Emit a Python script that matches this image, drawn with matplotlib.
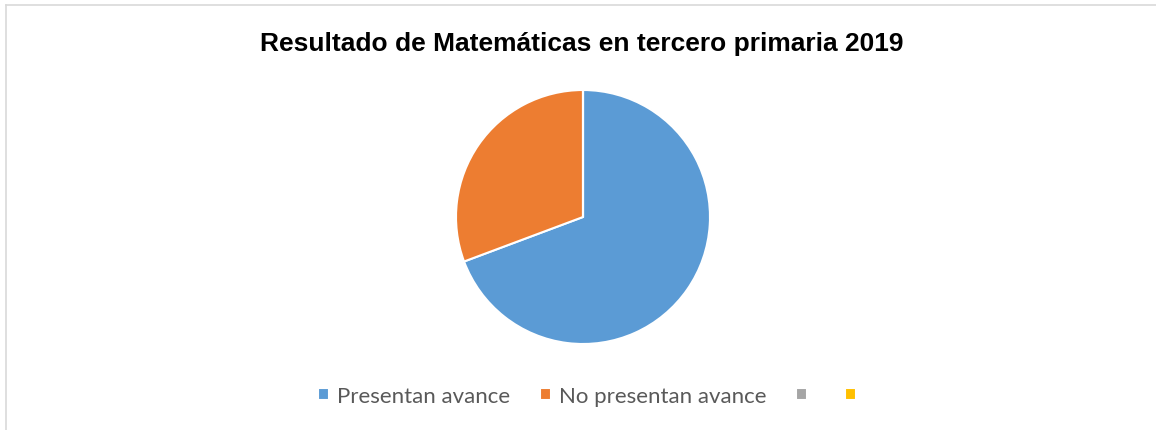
import matplotlib
matplotlib.use('Agg')
import matplotlib.pyplot as plt
from matplotlib.lines import Line2D

# datos del grafico
categorias = ['Presentan avance', 'No presentan avance', '', '']
valores = [69.3, 30.7, 0, 0]
colores = ['#5B9BD5', '#ED7D31', '#A5A5A5', '#FFC000']
titulo = 'Resultado de Matemáticas en tercero primaria 2019'

fig = plt.figure(figsize=(11.56, 4.31), dpi=100)

# borde gris del area del grafico (solo arriba e izquierda se ven)
fig.add_artist(Line2D([6/1156, 1.0], [1 - 6/431, 1 - 6/431], color='#D9D9D9', lw=1.2))
fig.add_artist(Line2D([6/1156, 6/1156], [0, 1 - 6/431], color='#D9D9D9', lw=1.2))

ax = fig.add_axes([(583 - 127) / 1156, (213 - 127) / 431, 254 / 1156, 254 / 431])
wedges, _ = ax.pie(valores, colors=colores, startangle=90, counterclock=False,
                   wedgeprops=dict(edgecolor='white', linewidth=1.5))
ax.set_xlim(-1, 1)
ax.set_ylim(-1, 1)
ax.set_aspect('equal')
ax.axis('off')

fig.text(582 / 1156, 1 - 44 / 431, titulo, ha='center', va='center',
         fontsize=19, fontweight='bold', family='Liberation Sans')

fig.legend(wedges, categorias, loc='center', bbox_to_anchor=(591 / 1156, 34 / 431),
           ncol=4, frameon=False, handlelength=0.5, handleheight=0.5,
           handletextpad=0.35, columnspacing=1.35,
           prop={'family': 'Lato', 'size': 16}, labelcolor='#595959')

fig.savefig('out.png', dpi=100)
